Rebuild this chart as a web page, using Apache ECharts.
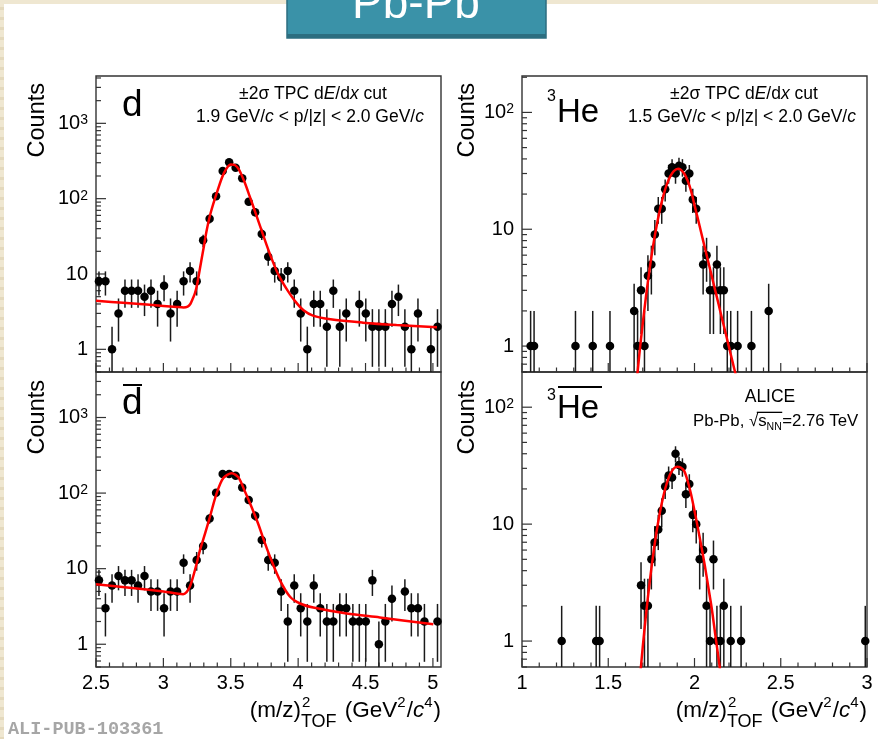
<!DOCTYPE html>
<html><head><meta charset="utf-8">
<script src="https://cdn.jsdelivr.net/npm/echarts@6/dist/echarts.min.js"></script>
<style>
html,body{margin:0;padding:0;width:878px;height:739px;overflow:hidden;}
body{background:repeating-linear-gradient(to bottom,#efe7d1 0px,#efe7d1 7px,#e4d9bd 7px,#e4d9bd 10px);}
#paper{position:absolute;left:4px;top:4px;right:0;bottom:0;background:#fff;}
#chart{position:absolute;left:0;top:0;width:878px;height:739px;}
</style></head><body><div id="paper"></div><div id="chart"></div>
<script>
// ---------------- DATA ----------------
// deuteron panels: bin centres (GeV^2/c^4)
const dX = [2.522,2.570,2.619,2.667,2.715,2.764,2.812,2.860,2.908,2.957,
  3.005,3.053,3.102,3.150,3.198,3.247,3.295,3.343,3.391,3.440,
  3.488,3.536,3.585,3.633,3.681,3.730,3.778,3.826,3.874,3.923,
  3.971,4.019,4.068,4.116,4.164,4.213,4.261,4.309,4.357,4.406,
  4.454,4.502,4.551,4.599,4.647,4.696,4.744,4.792,4.840,4.889,
  4.937,4.985,5.034];
const dCounts = [8,8,1,3,6,6,6,5,6,4,
  7,3,4,8,11,8,28,54,108,233,
  304,258,186,91,66,34,17,11,9,11,
  6,3,1,4,4,2,6,2,3,null,
  4,3,2,2,2,4,5,2,1,3,
  null,1,2];
const dbarCounts = [7,3,6,8,7,7,6,8,5,5,
  3,5,5,12,6,13,20,46,101,179,
  179,169,119,81,50,24,13,12,5,2,
  6,3,2,6,3,2,2,3,3,2,
  2,2,7,1,2,4,null,5,3,3,
  2,null,2];
// 3He panel
const he3X = [1.05,1.07,1.31,1.41,1.51,1.65,1.67,1.69,1.71,1.73,1.75,1.77,1.79,1.81,1.83,1.85,1.87,1.89,1.91,1.93,1.95,1.97,1.99,2.01,2.05,2.07,2.09,2.11,2.13,2.15,2.17,2.19,2.21,2.25,2.33,2.43];
const he3Counts = [1,1,1,1,1,2,1,3,1,4,5,9,15,15,22,30,34,30,35,34,26,30,18,15,5,6,3,3,5,3,3,1,1,1,1,2];
// anti-3He panel
const he3barX = [1.23,1.43,1.45,1.69,1.71,1.73,1.75,1.77,1.79,1.81,1.83,1.85,1.87,1.89,1.91,1.93,1.95,1.97,1.99,2.01,2.03,2.05,2.07,2.09,2.11,2.13,2.15,2.17,2.21,2.27,2.99];
const he3barCounts = [1,1,1,3,2,2,5,7,9,13,21,26,25,40,32,31,18,22,12,10,5,6,2,1,5,1,1,2,1,1,1];
// fit curves
const dFitX = [2.50,2.70,2.90,3.10,3.15,3.18,3.20,3.22,3.235,3.25,3.27,3.30,3.32,3.35,3.40,3.45,3.50,3.53,3.56,3.60,3.64,3.69,3.74,3.79,3.84,3.87,3.92,3.98,4.04,4.11,4.24,4.48,4.73,5.03];
const dFitY = [4.4,4.15,3.9,3.65,3.6,3.7,4.0,4.8,5.6,7.2,11.5,23,37,64,125,220,285,280,245,170,108,60,33,18.5,11,8.6,6.1,4.3,3.3,2.8,2.5,2.26,2.1,1.96];
const dbarFitX = [2.50,2.75,3.00,3.147,3.172,3.197,3.222,3.247,3.272,3.309,3.346,3.395,3.445,3.507,3.556,3.606,3.655,3.704,3.754,3.803,3.865,3.94,4.014,4.112,4.36,4.606,5.003];
const dbarFitY = [6.2,5.6,5.0,4.6,4.9,5.8,8.0,11.7,17.7,29,49,99,158,183,162,104,65,39,21.6,12.7,7.0,4.25,3.46,3.06,2.55,2.26,1.84];
const he3FitX = [1.66,1.68,1.70,1.72,1.74,1.76,1.78,1.80,1.82,1.84,1.86,1.88,1.905,1.92,1.94,1.96,1.98,2.00,2.02,2.04,2.06,2.08,2.10,2.12,2.14,2.16,2.18,2.20,2.22,2.24,2.26];
const he3FitY = [0.42,0.84,1.56,2.75,4.57,7.2,10.6,14.8,19.5,24.3,28.5,31.5,33,32.4,30.0,26.1,21.3,16.1,12.2,9.2,6.95,5.25,3.97,3.0,2.27,1.71,1.30,0.98,0.74,0.56,0.42];
const he3barFitX = [1.68,1.70,1.72,1.74,1.76,1.78,1.80,1.82,1.84,1.86,1.88,1.90,1.92,1.94,1.96,1.98,2.00,2.02,2.04,2.06,2.08,2.10,2.12,2.14,2.16];
const he3barFitY = [0.42,0.89,1.74,3.18,5.4,8.6,12.7,17.5,22.5,26.9,29.9,31,30.5,28.5,23.5,18,13,9.2,6.4,4.4,2.9,1.9,1.15,0.7,0.42];
// axis tick labels
const dXTicks = [2.5,3,3.5,4,4.5,5];
const heXTicks = [1,1.5,2,2.5,3];

// ---------------- BUILD ----------------
const FONT = 'Liberation Sans, Arial, Helvetica, sans-serif';
function pairs(xs, ys){ const o=[]; for(let i=0;i<xs.length;i++){ if(ys[i]!=null) o.push([xs[i],ys[i]]);} return o; }

const panels = [
  {grid:{left:96,top:76,width:345,height:296}, x:[2.5,5.06], y:[0.5,4250], showX:false, xt:dXTicks,
   pts:pairs(dX,dCounts), fit:pairs(dFitX,dFitY)},
  {grid:{left:522,top:76,width:345,height:296}, x:[1,3], y:[0.6,205], showX:false, xt:heXTicks,
   pts:pairs(he3X,he3Counts), fit:pairs(he3FitX,he3FitY)},
  {grid:{left:96,top:372,width:345,height:295}, x:[2.5,5.06], y:[0.5,4000], showX:true, xt:dXTicks,
   pts:pairs(dX,dbarCounts), fit:pairs(dbarFitX,dbarFitY)},
  {grid:{left:522,top:372,width:345,height:295}, x:[1,3], y:[0.6,200], showX:true, xt:heXTicks,
   pts:pairs(he3barX,he3barCounts), fit:pairs(he3barFitX,he3barFitY)}
];

function yTickList(mn,mx){
  const out=[];
  for(let k=-1;k<=4;k++){
    for(let m=1;m<=9;m++){
      const v=m*Math.pow(10,k);
      if(v>=mn*0.999 && v<=mx) out.push([v, m===1]);
    }
  }
  return out;
}
function xTickList(mn,mx){
  const out=[];
  const n0=Math.ceil(mn*10-1e-6), n1=Math.floor(mx*10+1e-6);
  for(let n=n0;n<=n1;n++){ out.push([n/10, n%5===0]); }
  return out;
}

const grids=[], xAxes=[], yAxes=[], series=[];
panels.forEach((p,i)=>{
  grids.push(Object.assign({show:true, borderColor:'#333', borderWidth:1.4, backgroundColor:'transparent', containLabel:false, outerBoundsMode:'none'}, p.grid));
  xAxes.push({type:'value', gridIndex:i, min:p.x[0], max:p.x[1], interval:0.5,
    axisLine:{show:false}, axisTick:{show:false}, splitLine:{show:false},
    axisLabel:{show:p.showX, fontSize:20, color:'#000', fontFamily:FONT, margin:6,
      showMinLabel:true, showMaxLabel:true,
      formatter:(v)=>{ const t=p.xt.find(a=>Math.abs(a-v)<1e-6); return t===undefined?'':String(t); }}});
  yAxes.push({type:'log', logBase:10, gridIndex:i, min:p.y[0], max:p.y[1],
    axisLine:{show:false}, axisTick:{show:false}, splitLine:{show:false},
    axisLabel:{fontSize:20, color:'#000', fontFamily:FONT, margin:8, showMinLabel:true, showMaxLabel:true,
      formatter:(v)=>{ const l=Math.log10(v), r=Math.round(l); if(Math.abs(l-r)>1e-4) return ''; if(r===0) return '1'; if(r===1) return '10'; return '10{sup|'+r+'}'; },
      rich:{sup:{fontSize:14, lineHeight:12, verticalAlign:'top', fontFamily:FONT, color:'#000'}}}});
  const yt=yTickList(p.y[0],p.y[1]), xt=xTickList(p.x[0],p.x[1]);
  const ymin=p.y[0], ymax=p.y[1], xmin=p.x[0];
  series.push({type:'custom', xAxisIndex:i, yAxisIndex:i, silent:true, z:5, data:[[xmin,ymin]],
    renderItem:(params,api)=>{
      const cs=params.coordSys, ch=[];
      const bot=cs.y+cs.height;
      yt.forEach(([v,maj])=>{ const py=api.coord([xmin,v])[1]; const L=maj?10:5;
        ch.push({type:'line',shape:{x1:cs.x,y1:py,x2:cs.x+L,y2:py},style:{stroke:'#333',lineWidth:1.2}}); });
      xt.forEach(([v,maj])=>{ const px=api.coord([v,ymin])[0]; const L=maj?9:4.5;
        ch.push({type:'line',shape:{x1:px,y1:bot,x2:px,y2:bot-L},style:{stroke:'#333',lineWidth:1.2}}); });
      return {type:'group',children:ch};
    }});
  series.push({type:'custom', xAxisIndex:i, yAxisIndex:i, silent:true, z:6, data:p.pts,
    renderItem:(params,api)=>{
      const cs=params.coordSys; const x=api.value(0), y=api.value(1);
      const e=Math.sqrt(y); const lo=y-e, hi=Math.min(y+e, ymax);
      const top=api.coord([x,hi]);
      const by = lo>ymin ? api.coord([x,lo])[1] : cs.y+cs.height;
      return {type:'line',shape:{x1:top[0],y1:top[1],x2:top[0],y2:by},style:{stroke:'#1a1a1a',lineWidth:1.5}};
    }});
  series.push({type:'scatter', xAxisIndex:i, yAxisIndex:i, data:p.pts, symbol:'circle', symbolSize:8.5,
    itemStyle:{color:'#000', opacity:1}, z:7, silent:true});
  series.push({type:'line', xAxisIndex:i, yAxisIndex:i, data:p.fit, showSymbol:false, smooth:0.3,
    clip:true, lineStyle:{color:'#ff0000', width:2.5}, z:8, silent:true});
});

// text helpers
const mctx = document.createElement('canvas').getContext('2d');
function tw(t, fs, italic){ mctx.font=(italic?'italic ':'')+fs+'px '+FONT; return mctx.measureText(t).width; }
function txt(x,y,text,opt){
  return {type:'text', x:x, y:y, z:100, style:Object.assign({text:text, fontFamily:FONT, fontSize:18, fill:'#000', align:'left', verticalAlign:'middle'}, opt||{})};
}
const it = {fontStyle:'italic', fontFamily:FONT, fontSize:17.5};
function xTitle(right){
  const M=22.5, S=15, B=18, yM=711, yS=702.5, yB=722.5;
  const parts=[
    {t:'(m/z)', fs:M, y:yM},
    {stack:true},
    {t:' (GeV', fs:M, y:yM},
    {t:'2', fs:S, y:yS, gap:1},
    {t:'/', fs:M, y:yM},
    {t:'c', fs:M, y:yM, it:true},
    {t:'4', fs:S, y:yS, gap:1},
    {t:')', fs:M, y:yM}
  ];
  const stackW = Math.max(tw('2',S), tw('TOF',B)) + 2;
  let W=0; parts.forEach(p=>{ W += p.stack ? stackW : tw(p.t,p.fs,p.it)+(p.gap||0); });
  let x = right - W; const out=[];
  parts.forEach(p=>{
    if(p.stack){ out.push(txt(x+1, yS, '2', {fontSize:S})); out.push(txt(x, yB, 'TOF', {fontSize:B})); x+=stackW; }
    else { out.push(txt(x, p.y, p.t, {fontSize:p.fs, fontStyle:p.it?'italic':'normal'})); x += tw(p.t,p.fs,p.it)+(p.gap||0); }
  });
  return out;
}
function sqrtLabel(x0, y){
  const F=16.8, s=10.5; const out=[]; let x=x0;
  out.push(txt(x,y,'Pb-Pb, ',{fontSize:F})); x+=tw('Pb-Pb, ',F);
  out.push(txt(x,y,'√',{fontSize:F})); const rx=x+tw('√',F)*0.85; x+=tw('√',F);
  out.push(txt(x,y,'s',{fontSize:F})); x+=tw('s',F);
  out.push(txt(x,y+6,'NN',{fontSize:s})); x+=tw('NN',s)+0.5;
  out.push({type:'rect', z:100, shape:{x:rx,y:y-9.3,width:x-rx,height:1.3}, style:{fill:'#000'}});
  out.push(txt(x,y,'=2.76 TeV',{fontSize:F}));
  return out;
}
function counts(x,y){ return {type:'text', x:x, y:y, rotation:Math.PI/2, z:100, style:{text:'Counts', fontFamily:FONT, fontSize:23.5, fill:'#000', align:'right', verticalAlign:'middle'}}; }

const graphics = [
  {type:'rect', z:90, shape:{x:287,y:-10,width:259,height:48}, style:{fill:'#3a92a8', stroke:'#2c6e80', lineWidth:1.5}},
  {type:'rect', z:91, shape:{x:287,y:34,width:259,height:4}, style:{fill:'#2c6e80'}},
  txt(416, 5, 'Pb-Pb', {align:'center', fontSize:46, fill:'#fff'}),
  counts(38,83), counts(38,380), counts(468,83), counts(468,380),
  // panel labels
  txt(122, 106, 'd', {fontSize:37}),
  txt(122, 404, 'd', {fontSize:37}),
  {type:'rect', z:100, shape:{x:123,y:384,width:19,height:2}, style:{fill:'#000'}},
  txt(547, 97, '3', {fontSize:16}),
  txt(557, 113, 'He', {fontSize:33}),
  txt(547, 396, '3', {fontSize:16}),
  txt(557, 409, 'He', {fontSize:33}),
  {type:'rect', z:100, shape:{x:558,y:386,width:44,height:2}, style:{fill:'#000'}},
  // annotations
  txt(313, 94, '±2σ TPC d{it|E}/d{it|x} cut', {align:'center', fontSize:17.5, rich:{it:it}}),
  txt(310, 117, '1.9 GeV/{it|c} < p/|z| < 2.0 GeV/{it|c}', {align:'center', fontSize:17.5, rich:{it:it}}),
  txt(744, 94, '±2σ TPC d{it|E}/d{it|x} cut', {align:'center', fontSize:17.5, rich:{it:it}}),
  txt(742, 117, '1.5 GeV/{it|c} < p/|z| < 2.0 GeV/{it|c}', {align:'center', fontSize:17.5, rich:{it:it}}),
  txt(770, 397, 'ALICE', {align:'center', fontSize:17.5}),
  ...sqrtLabel(693, 421),
  ...xTitle(441), ...xTitle(867),
  txt(8, 729, 'ALI-PUB-103361', {fontFamily:'Liberation Mono, DejaVu Sans Mono, monospace', fontWeight:'bold', fontSize:18.5, fill:'#a6a6a6'})
];

const chart = echarts.init(document.getElementById('chart'), null, {renderer:'canvas'});
chart.setOption({animation:false, backgroundColor:'transparent', grid:grids, xAxis:xAxes, yAxis:yAxes, series:series, graphic:graphics});
</script></body></html>
